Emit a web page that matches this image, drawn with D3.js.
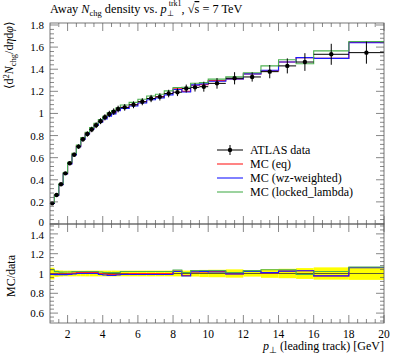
<!DOCTYPE html>
<html>
<head>
<meta charset="utf-8">
<script src="https://cdn.jsdelivr.net/npm/d3@7"></script>
<style>
  body { margin: 0; background: #fff; }
  text { font-family: "Liberation Serif", serif; fill: #000; }
</style>
</head>
<body>
<svg id="chart" width="397" height="358"></svg>
<script>
// bin edges in leading track pT [GeV]
var edges = [1,1.25,1.5,1.75,2,2.25,2.5,2.75,3,3.25,3.5,3.75,4,4.25,4.5,4.75,5,
             5.5,6,6.5,7,7.5,8,8.5,9,9.5,10,11,12,13,14,15,16,18,20];

var dataVals = [0.187,0.262,0.359,0.458,0.549,0.627,0.700,0.766,0.814,0.855,0.893,0.930,0.965,0.995,1.016,1.040,
                1.055,1.078,1.106,1.135,1.150,1.180,1.192,1.225,1.236,1.242,
                1.272,1.318,1.330,1.378,1.430,1.465,1.535,1.550];
var dataErr = [0.011,0.009,0.011,0.013,0.016,0.018,0.020,0.022,0.024,0.025,0.026,0.027,0.028,0.029,0.030,0.030,
               0.030,0.031,0.032,0.033,0.033,0.034,0.035,0.036,0.038,0.045,
               0.048,0.055,0.042,0.060,0.068,0.080,0.095,0.100];

var mcEq = [0.187,0.262,0.357,0.456,0.549,0.630,0.707,0.774,0.822,0.864,0.902,0.930,0.960,0.985,1.006,1.030,
            1.050,1.078,1.106,1.135,1.150,1.180,1.222,1.200,1.255,1.261,
            1.297,1.311,1.358,1.385,1.465,1.505,1.498,1.643];
var mcWz = [0.185,0.259,0.355,0.453,0.544,0.624,0.700,0.766,0.814,0.855,0.893,0.921,0.951,0.975,0.996,1.024,
            1.044,1.067,1.095,1.124,1.139,1.168,1.216,1.194,1.258,1.267,
            1.291,1.311,1.358,1.390,1.465,1.505,1.498,1.640];
var mcLocked = [0.194,0.267,0.364,0.465,0.557,0.640,0.714,0.781,0.830,0.872,0.911,0.944,0.975,1.005,1.026,1.050,
                1.076,1.100,1.128,1.158,1.173,1.204,1.234,1.237,1.273,1.279,
                1.310,1.331,1.368,1.430,1.485,1.450,1.566,1.651];

var series = [
  {name: 'MC (eq)', vals: mcEq, color: '#ff2020'},
  {name: 'MC (wz-weighted)', vals: mcWz, color: '#1a1aff'},
  {name: 'MC (locked_lambda)', vals: mcLocked, color: '#4cb050'}
];

var svg = d3.select('#chart');
var x = d3.scaleLinear().domain([1, 20]).range([50, 384]);
var y = d3.scaleLinear().domain([0, 1.818]).range([224, 23]);
var yr = d3.scaleLinear().domain([0.5, 1.5]).range([323, 224]);

var bins = dataVals.map(function(v, i){
  return {lo: edges[i], hi: edges[i+1], v: v, e: dataErr[i]};
});

function stepPath(vals, ys){
  var p = '';
  vals.forEach(function(v, i){
    p += (i == 0 ? 'M' : 'L') + x(edges[i]) + ',' + ys(v) + 'L' + x(edges[i+1]) + ',' + ys(v);
  });
  return p;
}

// ---- ratio band (data uncertainty)
var gr = svg.append('g');
gr.selectAll('rect.band')
  .data(bins)
  .enter().append('rect')
  .attr('x', function(d){ return x(d.lo); })
  .attr('width', function(d){ return x(d.hi) - x(d.lo); })
  .attr('y', function(d){ return yr(1 + d.e / d.v); })
  .attr('height', function(d){ return yr(1 - d.e / d.v) - yr(1 + d.e / d.v); })
  .attr('fill', '#ffff00');
gr.append('line')
  .attr('x1', x(1)).attr('x2', x(20))
  .attr('y1', yr(1)).attr('y2', yr(1))
  .attr('stroke', '#333').attr('stroke-width', 0.8);
series.forEach(function(s){
  var ratios = s.vals.map(function(v, i){ return v / dataVals[i]; });
  gr.append('path')
    .attr('d', stepPath(ratios, yr))
    .attr('fill', 'none')
    .attr('stroke', s.color)
    .attr('stroke-width', 1.1);
});

// ---- main panel MC histograms
var gm = svg.append('g');
series.forEach(function(s){
  gm.append('path')
    .attr('d', stepPath(s.vals, y))
    .attr('fill', 'none')
    .attr('stroke', s.color)
    .attr('stroke-width', 1.1);
});

// data points
var pts = gm.selectAll('g.pt')
  .data(bins)
  .enter().append('g');
pts.append('line')
  .attr('x1', function(d){ return x(d.lo); })
  .attr('x2', function(d){ return x(d.hi); })
  .attr('y1', function(d){ return y(d.v); })
  .attr('y2', function(d){ return y(d.v); })
  .attr('stroke', '#000').attr('stroke-width', 1);
pts.append('line')
  .attr('x1', function(d){ return x((d.lo + d.hi) / 2); })
  .attr('x2', function(d){ return x((d.lo + d.hi) / 2); })
  .attr('y1', function(d){ return y(d.v - d.e); })
  .attr('y2', function(d){ return y(d.v + d.e); })
  .attr('stroke', '#000').attr('stroke-width', 1);
pts.append('circle')
  .attr('cx', function(d){ return x((d.lo + d.hi) / 2); })
  .attr('cy', function(d){ return y(d.v); })
  .attr('r', 2.2)
  .attr('fill', '#000');

// ---- frames and ticks
var frameCol = '#555';
function frame(ys, yMajors, yMinors, lo, hi, labelShift){
  var g = svg.append('g');
  g.append('rect')
    .attr('x', x(1)).attr('y', ys(hi))
    .attr('width', x(20) - x(1)).attr('height', ys(lo) - ys(hi))
    .attr('fill', 'none').attr('stroke', frameCol).attr('stroke-width', 0.8);
  yMajors.concat(yMinors).forEach(function(t){
    var len = yMajors.indexOf(t) >= 0 ? 8 : 4;
    g.append('line').attr('x1', x(1)).attr('x2', x(1) + len)
      .attr('y1', ys(t)).attr('y2', ys(t)).attr('stroke', frameCol).attr('stroke-width', 0.7);
    g.append('line').attr('x1', x(20)).attr('x2', x(20) - len)
      .attr('y1', ys(t)).attr('y2', ys(t)).attr('stroke', frameCol).attr('stroke-width', 0.7);
  });
  var xMaj = d3.range(2, 20.01, 2);
  var xMin = d3.range(1.5, 20, 0.5).filter(function(t){ return xMaj.indexOf(t) < 0; });
  xMaj.concat(xMin).forEach(function(t){
    var len = xMaj.indexOf(t) >= 0 ? 8 : 4;
    g.append('line').attr('x1', x(t)).attr('x2', x(t))
      .attr('y1', ys(lo)).attr('y2', ys(lo) - len).attr('stroke', frameCol).attr('stroke-width', 0.7);
    g.append('line').attr('x1', x(t)).attr('x2', x(t))
      .attr('y1', ys(hi)).attr('y2', ys(hi) + len).attr('stroke', frameCol).attr('stroke-width', 0.7);
  });
  g.selectAll('text.yt')
    .data(yMajors)
    .enter().append('text')
    .attr('x', 44)
    .attr('y', function(d){ return ys(d) + (labelShift[d] != null ? labelShift[d] : 4); })
    .attr('text-anchor', 'end')
    .attr('font-size', 11)
    .text(function(d){ return d3.format('')(+d.toFixed(2)); });
  return g;
}

var mainMaj = [0,0.2,0.4,0.6,0.8,1,1.2,1.4,1.6,1.8];
var mainMin = d3.range(0, 1.81, 0.04).map(function(t){ return +t.toFixed(2); })
  .filter(function(t){ return mainMaj.indexOf(t) < 0; });
frame(y, mainMaj, mainMin, 0, 1.818, {0: 2});

var ratioMaj = [0.6,0.8,1,1.2,1.4];
var ratioMin = d3.range(0.52, 1.49, 0.04).map(function(t){ return +t.toFixed(2); })
  .filter(function(t){ return ratioMaj.indexOf(t) < 0; });
frame(yr, ratioMaj, ratioMin, 0.5, 1.5, {1.4: 4.8});

// x tick labels
svg.selectAll('text.xt')
  .data(d3.range(2, 20.01, 2))
  .enter().append('text')
  .attr('x', function(d){ return x(d); })
  .attr('y', 338)
  .attr('text-anchor', 'middle')
  .attr('font-size', 11.5)
  .text(function(d){ return d; });

// ---- labels
var title = svg.append('text').attr('x', 50).attr('y', 13).attr('font-size', 12.3);
title.append('tspan').text('Away ');
title.append('tspan').attr('font-style', 'italic').text('N');
title.append('tspan').attr('font-size', 8.5).attr('dy', 2.5).text('chg');
title.append('tspan').attr('dy', -2.5).text(' density vs. ');
title.append('tspan').attr('font-style', 'italic').text('p');
title.append('tspan').attr('font-size', 8).attr('dy', 3).text('⊥');
title.append('tspan').attr('font-size', 8).attr('dy', -10).attr('dx', -5).text('trk1');
title.append('tspan').attr('dy', 7).text(', √');
title.append('tspan').style('text-decoration', 'overline').text('s');
title.append('tspan').text(' = 7 TeV');

var yl = svg.append('text')
  .attr('transform', 'translate(13,21) rotate(-90)')
  .attr('text-anchor', 'end')
  .attr('font-size', 12);
yl.append('tspan').text('⟨d');
yl.append('tspan').attr('font-size', 8.5).attr('dy', -4).text('2');
yl.append('tspan').attr('dy', 4).attr('font-style', 'italic').text('N');
yl.append('tspan').attr('font-size', 8.5).attr('dy', 2.5).text('chg');
yl.append('tspan').attr('dy', -2.5).text('/d');
yl.append('tspan').attr('font-style', 'italic').text('η');
yl.append('tspan').text('d');
yl.append('tspan').attr('font-style', 'italic').text('φ');
yl.append('tspan').text('⟩');

svg.append('text')
  .attr('transform', 'translate(15,276) rotate(-90)')
  .attr('text-anchor', 'middle')
  .attr('font-size', 12)
  .text('MC/data');

var xl = svg.append('text').attr('x', 384).attr('y', 350)
  .attr('text-anchor', 'end').attr('font-size', 12);
xl.append('tspan').attr('font-style', 'italic').text('p');
xl.append('tspan').attr('font-size', 8.5).attr('dy', 3).text('⊥');
xl.append('tspan').attr('dy', -3).text(' (leading track) [GeV]');

// ---- legend
var leg = svg.append('g');
var legY = [153.5, 167.5, 181.5, 195.5];
leg.append('line').attr('x1', 217).attr('x2', 243)
  .attr('y1', legY[0] - 3.5).attr('y2', legY[0] - 3.5).attr('stroke', '#000');
leg.append('line').attr('x1', 230).attr('x2', 230)
  .attr('y1', legY[0] - 8.5).attr('y2', legY[0] + 1.5).attr('stroke', '#000');
leg.append('circle').attr('cx', 230).attr('cy', legY[0] - 3.5).attr('r', 2.2).attr('fill', '#000');
leg.append('text').attr('x', 250).attr('y', legY[0]).attr('font-size', 12).text('ATLAS data');
series.forEach(function(s, i){
  leg.append('line').attr('x1', 217).attr('x2', 243)
    .attr('y1', legY[i+1] - 3.5).attr('y2', legY[i+1] - 3.5)
    .attr('stroke', s.color).attr('stroke-width', 1.1);
  leg.append('text').attr('x', 250).attr('y', legY[i+1]).attr('font-size', 12).text(s.name);
});
</script>
</body>
</html>
